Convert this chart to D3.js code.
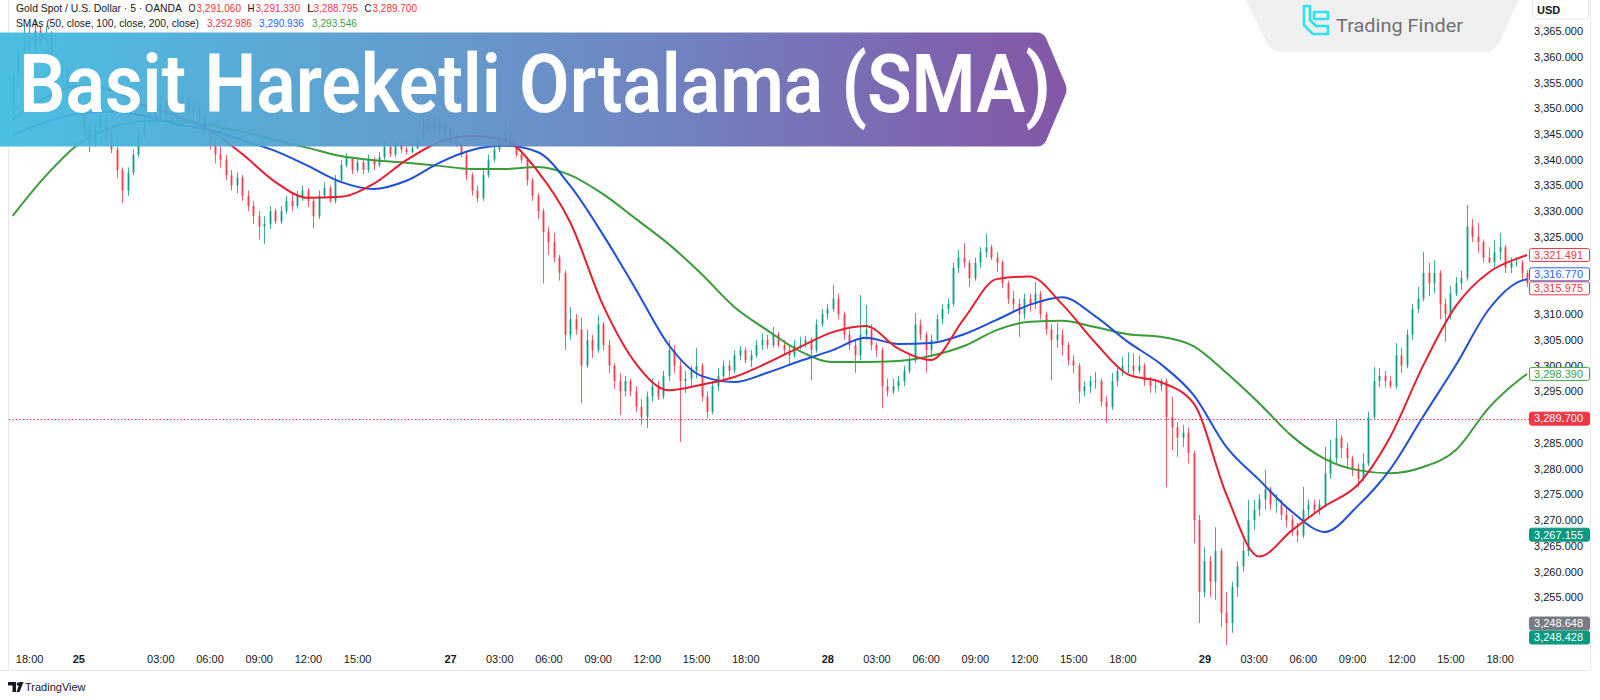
<!DOCTYPE html>
<html><head><meta charset="utf-8">
<script src="https://cdn.jsdelivr.net/npm/d3@7"></script>
<style>html,body{margin:0;padding:0;background:#fff;} svg{display:block;}</style>
</head><body>
<svg id="c" width="1600" height="700"></svg>
<script>
// ---------------- DATA ----------------
const open0 = 3350;
const closes = [
3356,3361,3364,3362,3365,3363,3364,3360,3357,3358,
3354,3352,3349,3346,3343,3346,3348,3345,3342,3338,
3334,3337.5,3341,3345,3348,3350,3348,3351,3349,3347,
3350,3352,3349,3350,3348,3346,3343,3341,3340,3337,
3335,3336.5,3333,3331,3329,3327,3327.5,3330,3328,3330,
3332,3331,3333,3334,3332,3329,3333,3334.5,3332,3336,
3339,3340.5,3338,3339.5,3338,3340,3339,3340.5,3342.5,3341,
3343,3342,3341.5,3342.3,3344.5,3347,3346,3347,3345,3346,
3344,3343,3341,3337,3334,3332.5,3337,3340,3342,3343.5,
3345,3343,3341,3340,3336,3333,3330,3326,3324,3321,
3318,3306,3309,3307,3300,3305,3303,3308,3304,3300,
3297,3295,3297,3295,3292,3290,3294,3296,3294,3298,
3303,3300,3297,3297.5,3299,3300,3294,3291,3296,3298,
3300,3299,3302,3303,3301,3302,3304,3305,3304,3306,
3304,3303,3302,3304,3304,3305,3303,3308,3310,3311,
3313,3310,3306,3304,3302,3306,3307,3304,3303,3296,
3295,3296,3297,3299,3301,3308,3306,3303,3305,3309,
3311,3312,3319,3321,3320,3317,3320,3322,3323,3321,
3320,3316,3313,3312,3310,3313,3312,3314,3310,3307,
3305,3306,3304,3301,3300,3295,3296,3297,3297,3293,
3292,3297,3299,3300,3300,3299,3300,3297,3296,3296,
3297,3290,3288,3286,3287,3283,3270,3256,3262,3258,
3264,3252,3250,3257,3261,3264,3270,3272,3274,3276,
3273,3273,3271,3270,3268,3267,3272,3273,3272,3273,
3279,3282,3286,3284,3282,3280,3278,3281,3290,3297,
3298,3297,3296,3302,3300,3306,3311,3313,3318,3316,
3318,3312,3310,3314,3316,3317,3327,3325,3324,3321,
3320,3322,3323,3319,3320,3320,3318,3315.975];
const highs = [
3357,3362.5,3366,3366.5,3367,3366,3366,3365,3361,3359.5,
3358.5,3355,3353,3350,3347,3347.5,3349.5,3348.5,3345.5,3342.5,
3338.5,3338.5,3342,3346,3349,3351.5,3351,3352.5,3352,3350,
3351,3353,3352.5,3351.5,3351,3349,3347,3344,3342.5,3341,
3338,3337.5,3337,3334,3332,3330,3329,3331,3330.5,3331,
3333,3333.5,3334,3335,3334.5,3332.5,3334,3335.6,3335,3337,
3340,3341.3,3340.5,3340.5,3340,3341,3340.5,3341.5,3343.6,3343,
3344,3343.5,3342.5,3343,3345,3348.7,3348,3348.3,3347.5,3347,
3346.5,3345,3343.5,3341.5,3337.5,3335,3338,3341,3343,3344.5,
3347.4,3345.5,3343.5,3342,3340.5,3336.5,3333.5,3330.5,3327,3325.8,
3321.5,3318.5,3311.4,3310,3309.4,3307,3306,3309.8,3308.5,3305,
3300.5,3298.5,3298,3297.5,3296,3293.5,3295,3297.5,3297,3299,
3305,3304,3301,3299,3300,3303.4,3300.5,3295,3297,3299.5,
3301,3301,3303,3303.8,3303.5,3303,3305,3306.3,3306,3307.5,
3306.5,3305,3304,3305,3305.6,3305.8,3305.5,3309,3311,3312,
3315.7,3314,3310.5,3307,3305,3313.7,3311.8,3308,3304.5,3303.5,
3297.5,3297.5,3298,3300,3302,3310.2,3309,3306.5,3306,3310,
3312,3313,3320,3322.5,3323.8,3320.5,3321,3323,3325.6,3323.5,
3322,3320.5,3316.5,3314.5,3313,3314,3314,3316.2,3314.5,3310.5,
3308,3308.3,3307,3304.5,3302,3300.5,3297,3298,3298.8,3297.5,
3294,3298.6,3300,3301.7,3302.6,3302.4,3302,3300.5,3297.8,3297.2,
3297.5,3297.5,3293.9,3289,3288.5,3288,3283.5,3271,3264.8,3263,
3268.6,3264.5,3256,3258,3262,3266,3273.9,3274,3275,3279.7,
3276.5,3275,3274,3272.5,3271,3269.5,3276.4,3274,3274,3274,
3284.2,3285.6,3289.4,3286.5,3285,3282.5,3281,3283,3291,3299.7,
3299.5,3299,3298,3304.4,3303.5,3307,3312,3315.3,3322.1,3320,
3320.5,3318.5,3313,3315.5,3317.2,3318.5,3331.2,3328.5,3327.7,3324.5,
3323,3324.4,3325.8,3323.5,3321,3321.1,3320.5,3318.5];
const lows = [
3349,3355,3360,3361,3361,3362,3361,3359,3356,3355,
3353,3350,3348,3344.5,3341.5,3342.5,3345,3344,3341.3,3336.5,
3331.6,3333,3337,3340.5,3344,3347,3347,3347.5,3348,3346,
3346.5,3349,3348,3348,3347,3345,3342,3339.3,3338.5,3336,
3334,3333.5,3332,3330,3327.5,3324.5,3323.6,3326.5,3327.5,3327.5,
3329.5,3330,3330.5,3332,3330.8,3326.7,3328.5,3332.5,3331.6,3331.5,
3335.5,3338.5,3337.2,3337.5,3337.2,3337.5,3338,3338.5,3340,3340.5,
3340.5,3341.3,3341,3341.2,3342,3344,3345,3345.5,3344.5,3344.5,
3343.5,3342.5,3340.5,3336,3333,3331.8,3332,3336.5,3339.5,3341.5,
3343,3342.5,3340.5,3339.4,3335,3332,3328.5,3316,3321.5,3320,
3316.5,3303,3305,3306,3292.7,3299.5,3301.5,3302.5,3303,3298.5,
3295.5,3290.4,3294,3294,3291,3288.5,3287.9,3293,3293.3,3293.5,
3297,3298.5,3285.2,3294.7,3296,3297.5,3293,3289.8,3290.5,3295,
3297,3297.5,3298.5,3301,3300.5,3299.7,3301.5,3303,3303.3,3303.5,
3303.5,3302,3300.1,3301.5,3303.2,3303.5,3297.2,3302.5,3307.5,3309,
3310.5,3309,3305,3303,3298.6,3301,3305,3303,3301.7,3291.8,
3294,3294.5,3295,3296,3298.5,3300.5,3305,3298.6,3302,3304.5,
3308,3310,3311.5,3318,3319,3315.3,3316.5,3319,3321,3320.5,
3318.2,3315,3312,3310.5,3305.6,3309,3310.5,3311,3309,3306,
3297.2,3303.5,3302,3300,3298.5,3292.7,3294,3294.7,3295.5,3292,
3288.9,3291.4,3296,3298,3298.5,3298,3298.5,3296,3294.7,3294.7,
3295,3276.4,3283.6,3282.3,3284.2,3281,3265.5,3250,3255,3255,
3254.5,3249.2,3245.7,3248.1,3255.1,3260,3263,3268.1,3270.8,3272,
3272,3271.4,3270,3268.6,3267,3265.7,3266.5,3270.5,3271.4,3271,
3272.5,3278,3281,3282,3280.3,3278.5,3276.4,3277.5,3280.5,3289.5,
3295.8,3295.8,3295.6,3295.5,3298.6,3299.5,3305,3310.2,3312.5,3313.5,
3314,3309,3304.6,3309,3313.5,3314.7,3316.5,3324,3321.9,3320,
3319.9,3319,3320.5,3318,3318,3319.2,3316.5,3315.3];

const smaBars = [0,6,12,18,24,30,36,42,48,54,60,66,72,78,84,90,96,102,108,114,120,126,132,138,144,150,156,162,168,174,180,186,192,198,204,210,216,222,228,234,240,246,252,258,264,270,276,277];
const sma50 = [3347.7,3352.0,3354.3,3353.5,3350.6,3348.5,3345.8,3341.1,3335.7,3332.6,3332.8,3335.3,3339.9,3343.4,3344.6,3343.8,3337.8,3327.8,3311.7,3300.4,3295.2,3296.3,3297.8,3300.5,3303.6,3306.5,3307.7,3303.3,3301.1,3309.1,3316.8,3317.3,3311.9,3304.5,3298.3,3296.8,3292.7,3275.0,3262.9,3268.0,3272.7,3276.8,3286.2,3300.0,3311.6,3318.1,3321.1,3321.491];
const sma100 = [3344.8,3347.3,3348.9,3349.3,3348.5,3346.9,3345.8,3343.8,3341.7,3338.8,3335.7,3334.3,3335.9,3339.4,3341.9,3342.7,3341.5,3334.9,3325.4,3314.8,3304.0,3298.0,3296.8,3298.6,3300.9,3303.0,3305.4,3304.2,3304.4,3306.1,3308.9,3311.8,3313.3,3309.6,3304.6,3300.3,3294.3,3284.2,3277.8,3271.6,3267.7,3272.7,3279.9,3290.1,3300.1,3310.9,3316.5,3316.77];
const sma200 = [3329.1,3336.8,3343.0,3346.2,3347.5,3347.5,3346.7,3345.4,3343.8,3342.3,3340.7,3339.9,3339.4,3338.8,3338.2,3338.2,3338.6,3337.0,3333.3,3328.5,3323.6,3317.8,3311.4,3306.9,3302.8,3300.7,3300.7,3300.9,3301.9,3303.8,3306.9,3308.5,3308.7,3307.5,3306.1,3305.6,3303.8,3298.6,3292.7,3286.3,3281.9,3279.7,3279.1,3280.3,3283.6,3291.8,3297.6,3298.39];

const priceTicks = [3250,3255,3260,3265,3270,3275,3280,3285,3290,3295,3300,3305,3310,3315,3320,3325,3330,3335,3340,3345,3350,3355,3360,3365];
const timeTickBars = [3,12,27,36,45,54,63,80,89,98,107,116,125,134,149,158,167,176,185,194,203,218,227,236,245,254,263,272];
const timeTickLabels = ["18:00","25","03:00","06:00","09:00","12:00","15:00","27","03:00","06:00","09:00","12:00","15:00","18:00","28","03:00","06:00","09:00","12:00","15:00","18:00","29","03:00","06:00","09:00","12:00","15:00","18:00"];
const dayLabels = ["25","27","28","29"];

const lastPrice = 3289.700;
const markerValues = [3321.491, 3316.770, 3315.975, 3298.390, 3289.700, 3267.155, 3248.648, 3248.428];

const symbolTitle = "Gold Spot / U.S. Dollar · 5 · OANDA";
const ohlcKeys = ["O","H","L","C"];
const ohlcValues = ["3,291.060","3,291.330","3,288.795","3,289.700"];
const smaTitle = "SMAs (50, close, 100, close, 200, close)";
const smaValues = ["3,292.986","3,290.936","3,293.546"];
const titleText = "Basit Hareketli Ortalama (SMA)";

// ---------------- DRAW ----------------
const svg = d3.select("#c");
const W = 1600, H = 700;
const plotLeft = 9, plotRight = 1529, plotBottom = 650;
const x = d3.scaleLinear().domain([0, 277]).range([12.7, 1527]);
const y = d3.scaleLinear().domain([3365, 3250]).range([31, 623]);
const UP = "#089981", DOWN = "#f23645";
const C_RED = "#e3202f", C_BLUE = "#1f4fd8", C_GREEN = "#3b9b3b";
const AXFONT = "'Liberation Sans', 'DejaVu Sans', sans-serif";

svg.append("rect").attr("width", W).attr("height", H).attr("fill", "#fff");

const defs = svg.append("defs");
defs.append("clipPath").attr("id", "plotclip").append("rect")
  .attr("x", plotLeft).attr("y", 0).attr("width", plotRight - plotLeft).attr("height", plotBottom);
const grad = defs.append("linearGradient").attr("id", "bannerGrad").attr("x1", "0").attr("x2", "1").attr("y1", "0").attr("y2", "0");
grad.append("stop").attr("offset", "0%").attr("stop-color", "#3dbbe0");
grad.append("stop").attr("offset", "45%").attr("stop-color", "#5b8fc7");
grad.append("stop").attr("offset", "100%").attr("stop-color", "#7b4aa0");

// frame
svg.append("line").attr("x1", 8.5).attr("x2", 8.5).attr("y1", 0).attr("y2", 670).attr("stroke", "#e6e8ee");
svg.append("line").attr("x1", 0).attr("x2", 1590).attr("y1", 670.5).attr("y2", 670.5).attr("stroke", "#e6e8ee");
svg.append("line").attr("x1", 1590.5).attr("x2", 1590.5).attr("y1", 0).attr("y2", 670).attr("stroke", "#e6e8ee");

const plot = svg.append("g").attr("clip-path", "url(#plotclip)");

// last price dotted line
plot.append("line").attr("x1", plotLeft).attr("x2", plotRight)
  .attr("y1", Math.round(y(lastPrice)) + 0.5).attr("y2", Math.round(y(lastPrice)) + 0.5)
  .attr("stroke", DOWN).attr("stroke-width", 1).attr("stroke-dasharray", "1.5 2");

// candles
const candles = closes.map((c, i) => ({ i, o: i ? closes[i - 1] : open0, h: highs[i], l: lows[i], c }));
const cg = plot.append("g");
cg.selectAll("line.w").data(candles).join("line").attr("class", "w")
  .attr("x1", d => Math.round(x(d.i)) + 0.5).attr("x2", d => Math.round(x(d.i)) + 0.5)
  .attr("y1", d => y(Math.max(d.h, d.o, d.c))).attr("y2", d => y(Math.min(d.l, d.o, d.c)))
  .attr("stroke", d => d.c >= d.o ? UP : DOWN).attr("stroke-width", 1).attr("opacity", 0.8);
cg.selectAll("rect.b").data(candles).join("rect").attr("class", "b")
  .attr("x", d => Math.round(x(d.i)) - 0.5).attr("width", 2)
  .attr("y", d => y(Math.max(d.o, d.c)))
  .attr("height", d => Math.max(1, Math.abs(y(d.o) - y(d.c))))
  .attr("fill", d => d.c >= d.o ? UP : DOWN).attr("opacity", 0.8);

// SMA lines
const line = d3.line().x(d => x(d.b)).y(d => y(d.v)).curve(d3.curveMonotoneX);
[[sma200, C_GREEN], [sma100, C_BLUE], [sma50, C_RED]].forEach(([arr, col]) => {
  plot.append("path").datum(arr.map((v, k) => ({ b: smaBars[k], v })))
    .attr("d", line).attr("fill", "none").attr("stroke", col).attr("stroke-width", 2)
    .attr("stroke-linejoin", "round");
});

// banner
const banner = svg.append("g").attr("opacity", 0.93);
banner.append("path")
  .attr("d", "M0,32.5 H1037 Q1043,32.5 1046,38 L1065,83 Q1068,89.5 1065,96 L1046,141 Q1043,146.5 1037,146.5 H0 Z")
  .attr("fill", "url(#bannerGrad)");
svg.append("text").attr("x", 19).attr("y", 112)
  .attr("font-family", "Roboto, 'Noto Sans', sans-serif").attr("font-weight", 600)
  .attr("font-size", 82).attr("fill", "#fff")
  .attr("textLength", 1032).attr("lengthAdjust", "spacingAndGlyphs")
  .text(titleText);

// legend: one text element per line, pieces as positioned tspans
const lg = svg.append("g").attr("font-family", AXFONT).attr("font-size", 11.5);
const l1 = lg.append("text").attr("y", 11.5).attr("fill", "#131722");
l1.append("tspan").attr("x", 16).attr("textLength", 166).attr("lengthAdjust", "spacingAndGlyphs").text(symbolTitle);
const keyX = [188.5, 247.5, 307, 364.5];
const valX = [196.5, 255.5, 313.5, 372.5];
ohlcKeys.forEach((k, i) => {
  l1.append("tspan").attr("x", keyX[i]).attr("textLength", 7).attr("lengthAdjust", "spacingAndGlyphs").text(k);
  l1.append("tspan").attr("x", valX[i]).attr("fill", DOWN).attr("textLength", 44.5).attr("lengthAdjust", "spacingAndGlyphs").text(ohlcValues[i]);
});
const l2 = lg.append("text").attr("y", 27).attr("fill", "#131722");
l2.append("tspan").attr("x", 16).attr("textLength", 183).attr("lengthAdjust", "spacingAndGlyphs").text(smaTitle);
const smaValX = [207, 259, 312];
const smaValCol = [DOWN, "#2962ff", "#43a047"];
smaValues.forEach((v, i) => {
  l2.append("tspan").attr("x", smaValX[i]).attr("fill", smaValCol[i]).attr("textLength", 45).attr("lengthAdjust", "spacingAndGlyphs").text(v);
});

// Trading Finder badge
const tf = svg.append("g");
tf.append("path").attr("d", "M1246,0 H1519 L1499,43 Q1494,52 1484,52 H1282 Q1272,52 1267,43 Z").attr("fill", "#f0f0f0");
const ic = tf.append("g").attr("fill", "none").attr("stroke", "#2ee3f0").attr("stroke-width", 2.6).attr("stroke-linejoin", "round");
ic.append("path").attr("d", "M1304,6 H1310 V20 L1316,26 H1328 V34 H1313 L1304,25 Z");
ic.append("path").attr("d", "M1314,12 H1328 V19 H1314 Z");
tf.append("text").attr("x", 1336).attr("y", 32).attr("font-family", "Roboto, 'Noto Sans', sans-serif")
  .attr("font-size", 18.5).attr("fill", "#707070").attr("textLength", 127).attr("lengthAdjust", "spacingAndGlyphs").text("Trading Finder");

// price axis (labels fully hidden behind a marker box are skipped, as the platform does)
const hiddenTicks = priceTicks.filter(p => markerValues.some(m => Math.abs(y(p) - y(m)) < 8));
const pa = svg.append("g").attr("transform", "translate(1583,0)")
  .call(d3.axisLeft(y).tickValues(priceTicks.filter(p => !hiddenTicks.includes(p))).tickSize(0).tickPadding(0).tickFormat(d3.format(",.3f")));
pa.select(".domain").remove();
pa.selectAll("text").attr("font-family", AXFONT).attr("font-size", 11).attr("fill", "#131722");

// USD box
svg.append("rect").attr("x", 1532.5).attr("y", -2).attr("width", 56).attr("height", 21).attr("rx", 2).attr("fill", "#fff").attr("stroke", "#e6e8ee");
svg.append("text").attr("x", 1537).attr("y", 14).attr("font-family", AXFONT).attr("font-size", 11).attr("font-weight", 700).attr("fill", "#131722").text("USD");

// price markers with simple collision avoidance
const markerStyle = [
  { fill: "#fff", stroke: DOWN, text: DOWN },
  { fill: "#fff", stroke: "#2962ff", text: "#2962ff" },
  { fill: "#fff", stroke: DOWN, text: DOWN },
  { fill: "#fff", stroke: "#43a047", text: "#43a047" },
  { fill: DOWN, stroke: DOWN, text: "#fff" },
  { fill: UP, stroke: UP, text: "#fff" },
  { fill: "#787b86", stroke: "#787b86", text: "#fff" },
  { fill: UP, stroke: UP, text: "#fff" }
];
const MH = 14;
let items = markerValues.map((v, i) => ({ i, v, y: y(v) })).sort((a, b) => a.y - b.y);
let groups = items.map(d => ({ members: [d], top: d.y - MH / 2 }));
let merged = true;
while (merged) {
  merged = false;
  for (let k = 1; k < groups.length; k++) {
    const g0 = groups[k - 1], g1 = groups[k];
    if (g0.top + g0.members.length * MH > g1.top) {
      const members = g0.members.concat(g1.members);
      const mean = d3.mean(members, d => d.y);
      groups.splice(k - 1, 2, { members, top: mean - members.length * MH / 2 });
      merged = true; break;
    }
  }
}
groups.forEach(g => g.members.forEach((d, j) => d.ly = g.top + j * MH + MH / 2));
const mg = svg.append("g");
items.forEach(d => {
  const s = markerStyle[d.i];
  mg.append("rect").attr("x", 1529.5).attr("y", d.ly - MH / 2 + 0.5).attr("width", 60).attr("height", MH - 1).attr("rx", 2)
    .attr("fill", s.fill).attr("stroke", s.stroke);
  mg.append("text").attr("x", 1583).attr("y", d.ly).attr("dy", "0.35em").attr("text-anchor", "end")
    .attr("font-family", AXFONT).attr("font-size", 11).attr("fill", s.text)
    .text(d3.format(",.3f")(d.v));
});

// time axis
const ta = svg.append("g").attr("transform", "translate(0,652)")
  .call(d3.axisBottom(x).tickValues(timeTickBars).tickSize(0).tickPadding(3).tickFormat((d, i) => timeTickLabels[i]));
ta.select(".domain").remove();
ta.selectAll("text").attr("font-family", AXFONT).attr("font-size", 11).attr("fill", "#131722")
  .attr("font-weight", (d, i) => dayLabels.includes(timeTickLabels[i]) ? 700 : 400);

// TradingView footer
const tv = svg.append("g").attr("fill", "#131722");
tv.append("path").attr("d", "M8,682 H16 V692 H12.5 V685.5 H8 Z");
tv.append("circle").attr("cx", 18.5).attr("cy", 684).attr("r", 1.8);
tv.append("path").attr("d", "M20,682 H23.5 L19.5,692 H16.5 Z");
tv.append("text").attr("x", 25).attr("y", 691).attr("font-family", AXFONT).attr("font-size", 11).text("TradingView");
</script>
</body></html>
